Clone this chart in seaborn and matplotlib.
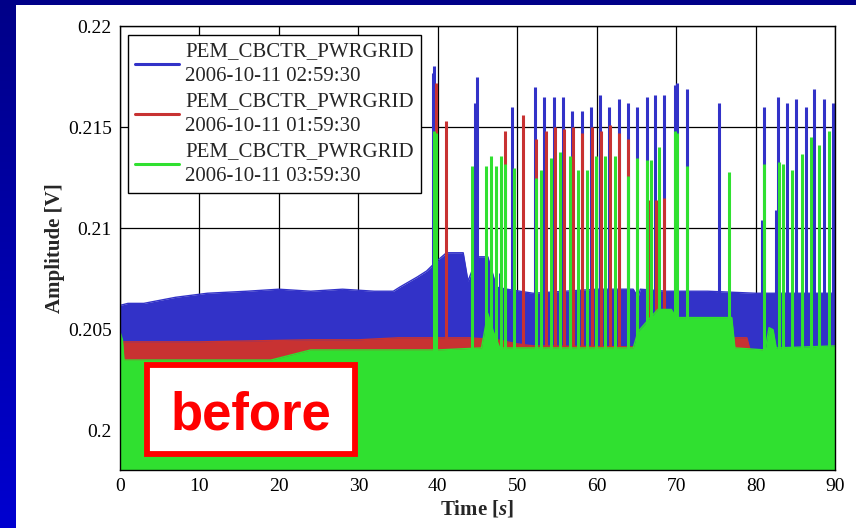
import numpy as np
import pandas as pd
import matplotlib
matplotlib.use("Agg")
import matplotlib.pyplot as plt
from matplotlib.patches import Rectangle
import seaborn as sns

# ---------------- data ----------------
labels = ["PEM_CBCTR_PWRGRID\n2006-10-11 02:59:30",
          "PEM_CBCTR_PWRGRID\n2006-10-11 01:59:30",
          "PEM_CBCTR_PWRGRID\n2006-10-11 03:59:30"]

# upper envelope of each (dense) signal: time [s], amplitude [V]
blue_env_t = [0, 1, 3, 7, 11, 16, 20, 24, 28, 32, 34.4, 35.2, 37.4, 38.6, 39.9, 41.1,
              43.2, 43.8, 45, 46.3, 47.4, 48.7, 52, 56, 60, 64.6, 65.2, 65.5, 68.8,
              74, 80, 85, 90]
blue_env_v = [0.2062, 0.2063, 0.2063, 0.2066, 0.2068, 0.2069, 0.2070, 0.2069, 0.2070,
              0.2069, 0.2069, 0.2071, 0.2076, 0.2079, 0.2084, 0.2088, 0.2088, 0.2074,
              0.2086, 0.2086, 0.2071, 0.2070, 0.2068, 0.2069, 0.2070, 0.2070, 0.2066,
              0.2070, 0.2069, 0.2069, 0.2068, 0.2068, 0.2068]

red_env_t = [0, 10, 24, 30, 35, 40, 44, 47.5, 50, 52, 77.2, 77.4, 78.9, 79.3, 90]
red_env_v = [0.2044, 0.2044, 0.2045, 0.2045, 0.2046, 0.2046, 0.2046, 0.2045, 0.2043,
             0.2042, 0.2041, 0.2046, 0.2046, 0.2040, 0.2040]

green_env_t = [0, 0.3, 0.5, 19, 24, 40, 45.5, 46.3, 47.0, 47.8, 64.6, 65.2, 66.3,
               67.7, 69.4, 70.0, 72.6, 74.9, 77.0, 77.4, 81.2, 81.7, 82.2, 82.6, 90]
green_env_v = [0.2049, 0.2045, 0.2035, 0.2035, 0.2040, 0.2040, 0.2041, 0.2058, 0.2049,
               0.2041, 0.2041, 0.2049, 0.2054, 0.2060, 0.2060, 0.2056, 0.2056, 0.2056,
               0.2056, 0.2041, 0.2040, 0.2051, 0.2050, 0.2041, 0.2042]

# transient spikes: time [s], peak amplitude [V]
blue_spike_t = [39.35, 39.55, 44.7, 44.95, 47.8, 49.4, 52.3, 53.4, 54.6, 55.8, 56.9, 58.1,
                59.3, 60.4, 61.6, 62.8, 63.9, 65.1, 66.3, 67.4, 68.5, 69.9, 70.1, 71.4,
                75.4, 80.8, 81.0, 82.6, 82.8, 84.0, 85.1, 86.3, 87.4, 88.6, 89.8]
blue_spike_v = [0.2177, 0.2180, 0.2162, 0.2175, 0.2078, 0.2160, 0.2170, 0.2165, 0.2165,
                0.2165, 0.2158, 0.2158, 0.2160, 0.2166, 0.2160, 0.2164, 0.2162, 0.2160,
                0.2165, 0.2166, 0.2166, 0.2171, 0.2172, 0.2169, 0.2162, 0.2104, 0.2160,
                0.2109, 0.2165, 0.2162, 0.2164, 0.2160, 0.2169, 0.2164, 0.2162]

red_spike_t = [39.8, 41.0, 48.4, 50.7, 52.4, 53.6, 54.7, 55.9, 57.0, 58.2, 59.4, 60.5,
               61.7, 62.8, 64.0, 66.4, 67.5, 68.5]
red_spike_v = [0.2172, 0.2153, 0.2148, 0.2156, 0.2144, 0.2148, 0.2150, 0.2149, 0.2150,
               0.2147, 0.2150, 0.2148, 0.2151, 0.2147, 0.2144, 0.2114, 0.2114, 0.2115]

green_spike_t = [39.55, 39.75, 44.3, 46.1, 46.7, 47.3, 47.9, 48.4, 49.6, 52.4, 53.0, 54.2,
                 55.4, 56.6, 57.7, 58.8, 59.9, 61.1, 62.3, 64.0, 65.1, 66.3, 66.8, 67.9,
                 69.9, 70.1, 71.4, 76.6, 81.1, 82.9, 83.5, 84.6, 85.8, 87.0, 88.0, 89.2]
green_spike_v = [0.2148, 0.2147, 0.2131, 0.2131, 0.2136, 0.2131, 0.2136, 0.2132, 0.2130,
                 0.2125, 0.2129, 0.2135, 0.2138, 0.2136, 0.2129, 0.2129, 0.2136, 0.2136,
                 0.2136, 0.2126, 0.2135, 0.2134, 0.2134, 0.2140, 0.2148, 0.2147, 0.2131,
                 0.2128, 0.2132, 0.2133, 0.2132, 0.2129, 0.2137, 0.2145, 0.2141, 0.2148]

x_ticks = [0, 10, 20, 30, 40, 50, 60, 70, 80, 90]
y_ticks = [0.2, 0.205, 0.21, 0.215, 0.22]
y_tick_labels = ["0.2", "0.205", "0.21", "0.215", "0.22"]
annotation = "before"

# ---------------- style ----------------
sns.set_theme(style="white")
plt.rcParams["font.family"] = ["Liberation Serif", "DejaVu Serif"]
plt.rcParams["mathtext.fontset"] = "custom"
plt.rcParams["mathtext.it"] = "Liberation Serif:italic:bold"
plt.rcParams["mathtext.rm"] = "Liberation Serif:bold"

W, H = 856, 528
fig = plt.figure(figsize=(W / 100, H / 100), dpi=100)

# slide background: blue gradient with white panel
bg = fig.add_axes([0, 0, 1, 1], zorder=-10)
grad = np.linspace(0, 1, 256).reshape(-1, 1)
cmap = matplotlib.colors.LinearSegmentedColormap.from_list("slide", ["#000088", "#0000D0"])
bg.imshow(grad, aspect="auto", cmap=cmap, extent=[0, 1, 0, 1], origin="upper")
bg.axis("off")
fig.add_artist(Rectangle((16 / W, 0), 1 - 16 / W, 1 - 5 / H, transform=fig.transFigure,
                         facecolor="white", edgecolor="none", zorder=-5))

ax = fig.add_axes([120 / W, 1 - 470 / H, 715 / W, 444 / H])
ax.set_facecolor("white")

BLUE, RED, GREEN = "#3232C8", "#C83232", "#30E030"
YMIN = 0.19807

series = [
    (blue_env_t, blue_env_v, blue_spike_t, blue_spike_v, BLUE, labels[0]),
    (red_env_t, red_env_v, red_spike_t, red_spike_v, RED, labels[1]),
    (green_env_t, green_env_v, green_spike_t, green_spike_v, GREEN, labels[2]),
]
for k, (et, ev, st, sv, col, lab) in enumerate(series):
    z = 2 + 2 * k
    ax.fill_between(et, YMIN, ev, color=col, lw=0, zorder=z)
    sns.lineplot(x=et, y=ev, ax=ax, color=col, lw=1, zorder=z, label=lab)
    ax.vlines(st, YMIN, sv, color=col, lw=2.2, zorder=z + 1)

ax.set_xlim(0, 90)
ax.set_ylim(YMIN, 0.22)
ax.set_xticks(x_ticks)
ax.set_xticklabels([str(t) for t in x_ticks])
ax.set_yticks(y_ticks)
ax.set_yticklabels(y_tick_labels)
ax.grid(True, color="black", lw=0.9, zorder=0)
ax.set_axisbelow(True)
for s in ax.spines.values():
    s.set_visible(True)
    s.set_color("black")
    s.set_linewidth(1.0)
    s.set_zorder(20)
ax.tick_params(axis="both", direction="in", length=0, labelsize=14, pad=6,
               colors="black")

ax.set_xlabel(r"Time [$\mathit{s}$]", fontsize=15, fontweight="bold", labelpad=2)
ax.set_ylabel("Amplitude [V]", fontsize=15, fontweight="bold", labelpad=2)

leg = ax.legend(loc="upper left", bbox_to_anchor=(8 / 715, 1 - 9 / 444), borderaxespad=0,
                fontsize=15, frameon=True, fancybox=False, framealpha=1,
                edgecolor="black", handlelength=2.1, handletextpad=0.3,
                labelspacing=0.3, borderpad=0.35)
leg.get_frame().set_linewidth(1.0)
for t in leg.get_texts():
    t.set_linespacing(1.4)
for h in leg.get_lines():
    h.set_linewidth(2.2)
leg.set_zorder(30)

# "before" annotation box
fig.add_artist(Rectangle((147 / W, 1 - 454 / H), 208 / W, 89 / H, transform=fig.transFigure,
                         facecolor="white", edgecolor="#FF0000", lw=4.2, zorder=40))
fig.text(251 / W, 1 - 430 / H, annotation, color="#FF0000", fontsize=38, fontweight="bold",
         family=["Liberation Sans", "DejaVu Sans"], ha="center", va="baseline", zorder=41)

fig.savefig("out.png", dpi=100, facecolor="white")
